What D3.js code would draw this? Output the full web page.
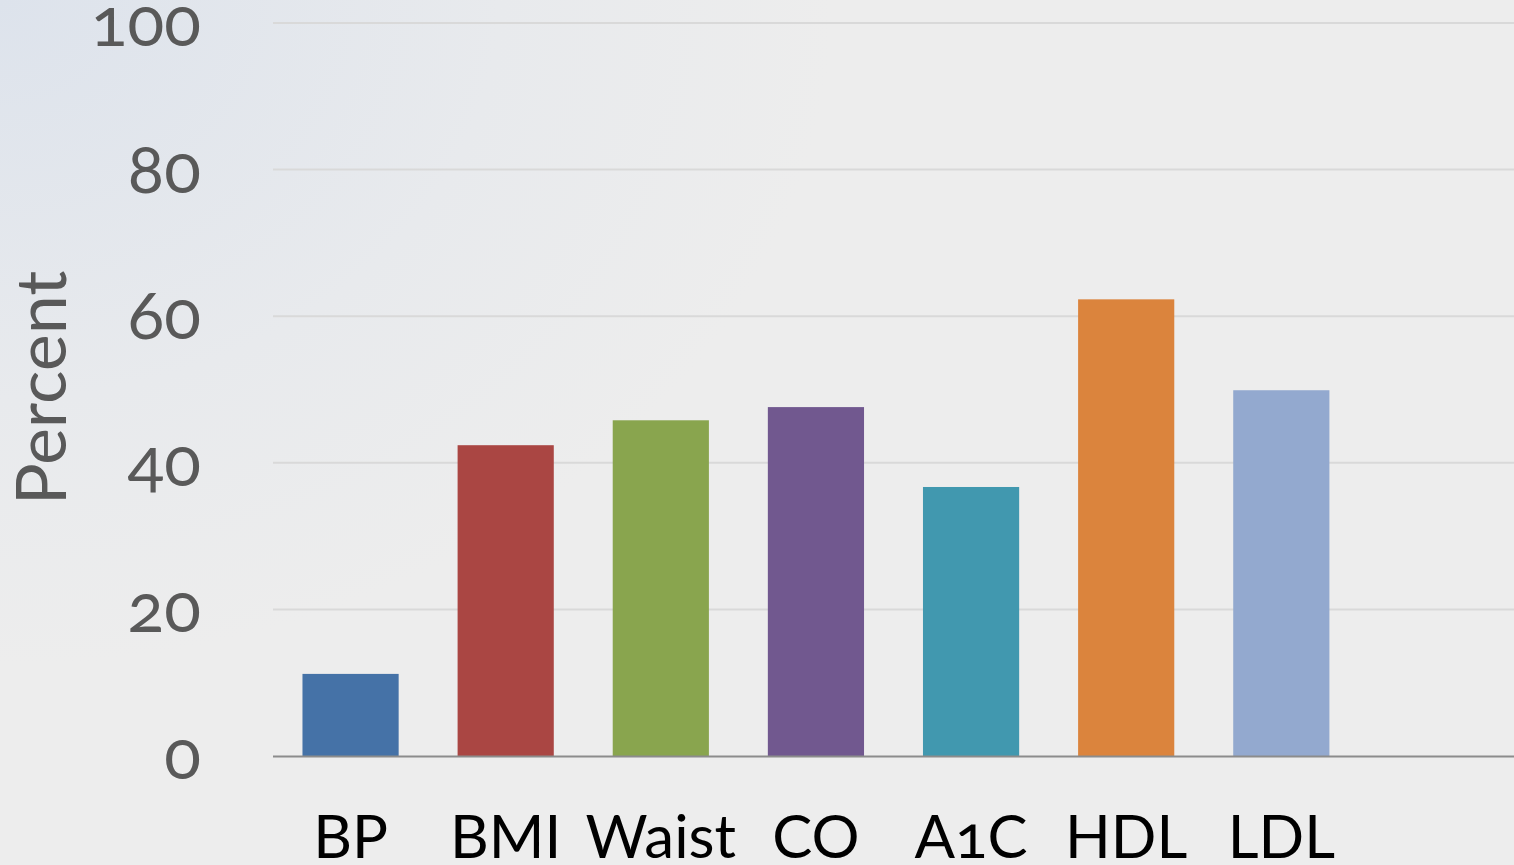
<!DOCTYPE html>
<html><head><meta charset="utf-8">
<script src="https://cdn.jsdelivr.net/npm/d3@7/dist/d3.min.js"></script>
<style>
html,body{margin:0;padding:0;overflow:hidden;background:#ededed;}
text{font-family:Lato,"Open Sans",sans-serif;}
</style></head><body>
<svg id="chart" width="1514" height="865"></svg>
<script>
const categories = ["BP","BMI","Waist","CO","A1C","HDL","LDL"];
const values = [11.2, 42.4, 45.8, 47.6, 36.7, 62.3, 49.9];
const colors = ["#4572A7","#AA4643","#89A54E","#71588F","#4198AF","#DB843D","#93A9CF"];
const yTicks = [0,20,40,60,80,100];
const yTitle = "Percent";

(function(){
const W = 1514, H = 865;
const svg = d3.select("#chart");
const defs = svg.append("defs");
const g1 = defs.append("radialGradient").attr("id","bg").attr("cx","0").attr("cy","0").attr("r","0.55")
  .attr("gradientTransform","scale(1,1.4)");
g1.append("stop").attr("offset","0").attr("stop-color","#dde3ec");
g1.append("stop").attr("offset","0.6").attr("stop-color","#e8eaed");
g1.append("stop").attr("offset","1").attr("stop-color","#ededed");
svg.append("rect").attr("width",W).attr("height",H).attr("fill","#ededed");
svg.append("rect").attr("width",W).attr("height",H).attr("fill","url(#bg)");

const mLeft = 273, mRight = 1514, mTop = 23, mBottom = 756;
const step = (mRight-mLeft)/8;
const x = d3.scaleBand().domain(categories).range([mLeft, mLeft+step*categories.length])
  .paddingInner(0.38).paddingOuter(0.19);
const y = d3.scaleLinear().domain([0,100]).range([mBottom, mTop]);

svg.append("g").selectAll("line").data(yTicks.filter(d=>d>0)).join("line")
  .attr("x1",mLeft).attr("x2",mRight).attr("y1",d=>y(d)).attr("y2",d=>y(d))
  .attr("stroke","#d9d9d9").attr("stroke-width",2);

svg.append("g").selectAll("text").data(yTicks).join("text")
  .attr("x",201).attr("y",d=>y(d)+23).attr("text-anchor","end")
  .style("font-size","68px").style("font-variant-numeric","oldstyle-nums")
  .attr("fill","#595959").text(d=>d);

svg.append("g").selectAll("rect").data(values).join("rect")
  .attr("x",(d,i)=>x(categories[i])).attr("width",x.bandwidth())
  .attr("y",d=>y(d)).attr("height",d=>y(0)-y(d))
  .attr("fill",(d,i)=>colors[i]);

svg.append("line").attr("x1",mLeft).attr("x2",mRight).attr("y1",y(0)+0.5).attr("y2",y(0)+0.5)
  .attr("stroke","#8c8c8c").attr("stroke-width",2);

svg.append("g").selectAll("text").data(categories).join("text")
  .attr("x",d=>x(d)+x.bandwidth()/2).attr("y",858).attr("text-anchor","middle")
  .style("font-size","60px").style("font-variant-numeric","oldstyle-nums")
  .attr("fill","#000").text(d=>d);

svg.append("text").attr("transform","translate(66,388) rotate(-90)").attr("text-anchor","middle")
  .style("font-size","70px").attr("fill","#595959").text(yTitle);
})();
</script></body></html>
